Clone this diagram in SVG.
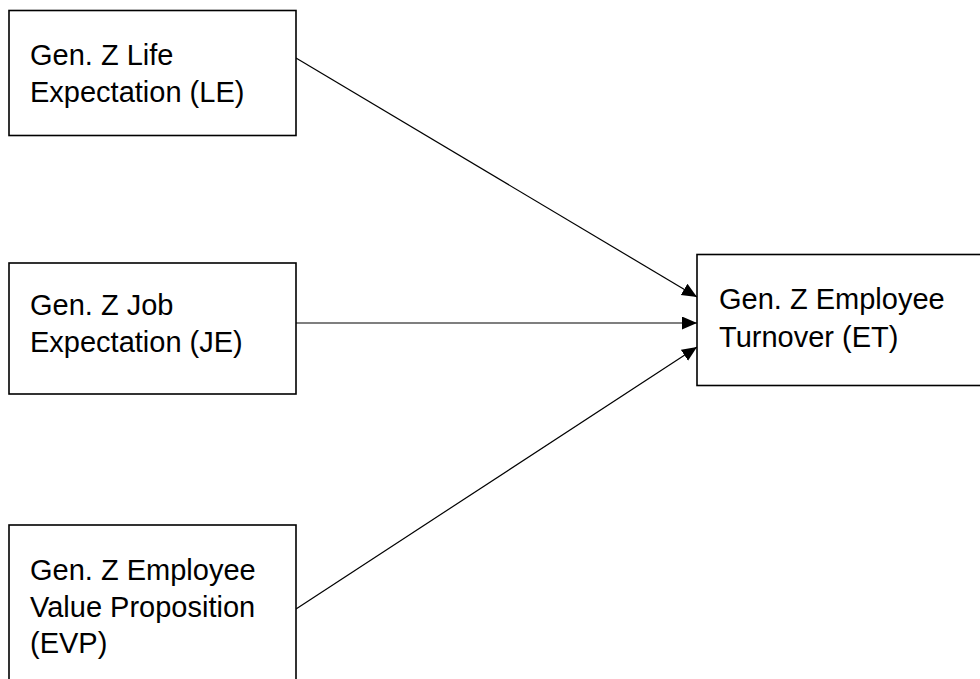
<svg xmlns="http://www.w3.org/2000/svg" width="980" height="679" viewBox="0 0 980 679">
<style>
.box{fill:#fff;stroke:#000;stroke-width:1.6}
.lbl{font-family:"Liberation Sans",Arial,sans-serif;font-size:29px;fill:#000}
.conn{stroke:#000;stroke-width:1.2;fill:none}
</style>
<defs>
<marker id="arr" markerUnits="userSpaceOnUse" markerWidth="16" markerHeight="14" refX="15" refY="6.5" orient="auto">
<path d="M0,0 L15,6.5 L0,13 Z" fill="#000"/>
</marker>
</defs>
<rect width="980" height="679" fill="#fff"/>
<g id="connectors">
<line class="conn" x1="296" y1="58" x2="697" y2="297" marker-end="url(#arr)"/>
<line class="conn" x1="296" y1="323" x2="697" y2="323" marker-end="url(#arr)"/>
<line class="conn" x1="296" y1="609" x2="697" y2="347" marker-end="url(#arr)"/>
</g>
<g id="LE">
<rect class="box" x="9" y="10.5" width="287" height="125"/>
<text class="lbl" x="30" y="65">Gen. Z Life</text>
<text class="lbl" x="30" y="101.5">Expectation (LE)</text>
</g>
<g id="JE">
<rect class="box" x="9" y="263" width="287" height="131"/>
<text class="lbl" x="30" y="315">Gen. Z Job</text>
<text class="lbl" x="30" y="351.5">Expectation (JE)</text>
</g>
<g id="EVP">
<rect class="box" x="9" y="525" width="287" height="170"/>
<text class="lbl" x="30" y="580">Gen. Z Employee</text>
<text class="lbl" x="30" y="616.5">Value Proposition</text>
<text class="lbl" x="30" y="653">(EVP)</text>
</g>
<g id="ET">
<rect class="box" x="697" y="254.5" width="300" height="131"/>
<text class="lbl" x="719" y="309">Gen. Z Employee</text>
<text class="lbl" x="719" y="347">Turnover (ET)</text>
</g>
</svg>
